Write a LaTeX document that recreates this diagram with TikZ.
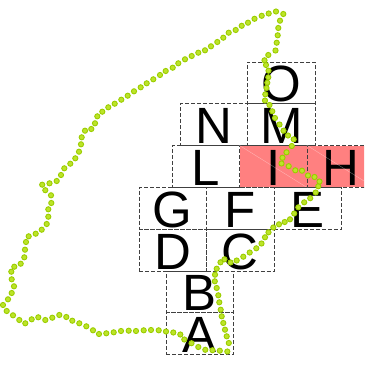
\documentclass[tikz,border=0pt]{standalone}
\usepackage{fontspec}
\setmainfont{Liberation Sans}
\usepackage{tikz}
\definecolor{cellred}{RGB}{255,128,128}
\definecolor{trackfill}{RGB}{188,228,40}
\definecolor{trackring}{RGB}{155,205,0}

\begin{document}
\begin{tikzpicture}[
    x=1pt, y=-1pt,
    cell/.style={draw=black!75, dash pattern=on 4pt off 2pt,
                 line width=0.8pt, minimum width=67.5pt,
                 minimum height=41.8pt, inner sep=0pt,
                 text height=37.8pt, text depth=0pt,
                 font=\fontsize{51}{51}\selectfont},
    hot/.style={cell, fill=cellred},
    trackdot/.style={fill=trackfill, draw=trackring, line width=0.9pt},
    glint/.style={white, opacity=0.4, line width=0.4pt},
  ]
  \useasboundingbox (0,0) rectangle (364,369);
  \clip (0,0) rectangle (364,369);

  % Row 0
  \node[cell] at (281.3, 82.9) (o) {O};

  % Row 1
  \node[cell] at (213.8, 124.7) (n) {N};
  \node[cell] at (281.3, 124.7) (m) {M};

  % Row 2: highlighted cells
  \node[cell] at (205.8, 166.5) (l) {L};
  \node[hot]  at (273.3, 166.5) (i) {I};
  \node[hot]  at (340.8, 166.5) (h) {H};
  \draw[glint] (i.north west) -- (i.south east);
  \draw[glint] (h.north west) -- (h.south east);

  % Row 3
  \node[cell] at (172.8, 208.3) (g) {G};
  \node[cell] at (240.3, 208.3) (f) {F};
  \node[cell] at (307.8, 208.3) (e) {E};

  % Row 4
  \node[cell] at (172.8, 250.1) (d) {D};
  \node[cell] at (240.3, 250.1) (c) {C};

  % Rows 5 and 6
  \node[cell] at (199.8, 291.9) (b) {B};
  \node[cell] at (199.8, 333.7) (a) {A};

  % Track
  \foreach \x/\y in {
      227.3/351.5, 228.8/343, 226.7/336.3, 225/329.7, 223.3/323,
      221.7/316.3, 220.7/309.7, 219.3/302.3, 218.3/295.3, 216.7/288,
      214.8/281.3, 215/274.7, 216.7/268.7, 220.5/262.3, 224.5/259.3,
      230.5/262.5, 236.7/260.5, 243.3/256.7, 249.7/252.5, 256.3/248.3,
      261.5/243.5, 265/237.3, 268.5/232.3, 273.3/227.5, 279/224.3,
      284.7/222, 290/219.3, 294.2/213.5, 298.3/207.3, 304.2/202.3,
      310.2/198.2, 315.7/192.5, 318.3/186.3, 319.5/181.5, 314.5/177,
      308/175.5, 302/170.7, 295.3/170.3, 288.7/166.2, 281.5/163.5,
      282.5/157.7, 286.5/152.3, 291.8/146, 293.7/139.3, 288/135.5,
      283.5/130.7, 279.5/124.5, 275/118, 272.3/111.3, 269.5/105,
      265/100.5, 265.3/94.3, 266.5/88, 267.3/82.7, 268.3/77.3,
      268.5/70.7, 266/65, 264.5/60.3, 268.3/55, 275.5/50.5,
      276.7/42.7, 277.7/35.3, 278.3/28, 280/20.7, 283.3/14,
      276/11.5, 268.7/13.5, 261.7/15.8, 254.5/18.8, 248/22.7,
      241.7/25.8, 235.7/30, 228.7/32.7, 223.3/37.7, 217.3/42,
      211/46.3, 205/50.3, 198.3/52.7, 191.7/56, 185/59.3,
      178.3/63.3, 172.7/67.7, 165.7/71, 160/75, 153.3/79.3,
      146.7/83.3, 140.7/87.3, 134/91.3, 127.7/95.7, 121.3/99.7,
      114.7/103.7, 108.3/107.3, 102.3/111.7, 97.3/116.3, 95/123.3,
      91.3/129, 85/130.7, 81.7/137.3, 81/144.3, 79/151.7,
      75.3/158.3, 70.3/163.7, 64.3/168.3, 61/175, 56.7/181,
      49.5/183.3, 42.2/184.7, 45.3/190.2, 51/195.3, 51.3/203,
      48.3/209.3, 48.3/216.7, 46.7/224, 41.7/229.7, 35.7/233.7,
      28.7/236.3, 26/242, 25/249.7, 24.3/257.3, 20.7/263.7,
      14.3/266.7, 11.3/271.7, 11.7/279.3, 14/286.3, 11.7/293,
      8/299.3, 3/305, 6.7/311, 13/315.3, 19.3/320,
      25.3/323.3, 31.7/319.3, 38.3/317.3, 45.3/320, 52.3/317.7,
      59.3/315, 66.3/317, 72.3/320.7, 79.3/323.3, 86.3/326.3,
      93/330.3, 99/334, 106.3/333.3, 113.7/332.3, 121/331,
      128.7/330.7, 136/331, 143.7/330.3, 151/330, 158.7/330.3,
      166/331.5, 173.3/332.5, 180.3/334.5, 184.3/339.5, 191.5/343.2,
      198.3/347, 205.3/349.8, 212.5/350.2, 219.8/350.7}
    \filldraw[trackdot] (\x,\y) circle[radius=2.6pt];

\end{tikzpicture}
\end{document}
